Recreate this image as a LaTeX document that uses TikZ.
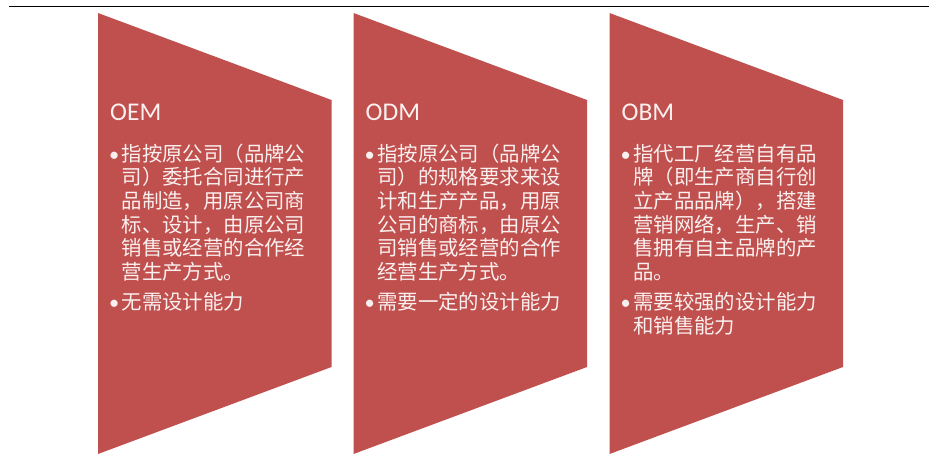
\documentclass[tikz,border=0pt]{standalone}
\usepackage{fontspec}
\setmainfont{Carlito}
\newfontfamily\cjk{Noto Sans CJK SC}
\newfontfamily\lat{Carlito}
\definecolor{chev}{HTML}{C0504D}
\definecolor{txt}{RGB}{250,240,240}
\tikzset{
  chevfill/.style={fill=chev},
  ttl/.style={anchor=base west, inner sep=0pt, text=txt, font=\lat\fontsize{25.5}{30}\selectfont},
  para/.style={anchor=base west, inner sep=0pt, text=txt, text width=215pt, align=left,
    font=\cjk\fontsize{20.4}{23.7}\selectfont},
}
\newcommand{\bul}{\llap{\lat •\hspace{2.5pt}}}
\begin{document}
\begin{tikzpicture}[x=1pt,y=-1pt]
\useasboundingbox (0,0) rectangle (929,454);
\draw[line width=1.7pt] (9,6.5) -- (929,6.5);
\foreach \x in {98,353.5,609.5}{
  \fill[chevfill] (\x,13) -- (\x+233.5,100) -- (\x+233.5,367) -- (\x,454) -- cycle;
}
% OEM
\node[ttl] (t1) at (110,120.5) {OEM};
\node[para] (a1) at (121.5,161.1) {\bul 指按原公司（品牌公\\司）委托合同进行产\\品制造，用原公司商\\标、设计，由原公司\\销售或经营的合作经\\营生产方式。};
\node[para] (b1) at (121.5,309.5) {\bul 无需设计能力};
% ODM
\node[ttl] (t2) at (365.5,120.5) {ODM};
\node[para] (a2) at (377,161.1) {\bul 指按原公司（品牌公\\司）的规格要求来设\\计和生产产品，用原\\公司的商标，由原公\\司销售或经营的合作\\经营生产方式。};
\node[para] (b2) at (377,309.5) {\bul 需要一定的设计能力};
% OBM
\node[ttl] (t3) at (621.5,120.5) {OBM};
\node[para] (a3) at (633,161.1) {\bul 指代工厂经营自有品\\牌（即生产商自行创\\立产品品牌），搭建\\营销网络，生产、销\\售拥有自主品牌的产\\品。};
\node[para] (b3) at (633,309.5) {\bul 需要较强的设计能力\\和销售能力};
\end{tikzpicture}
\end{document}
